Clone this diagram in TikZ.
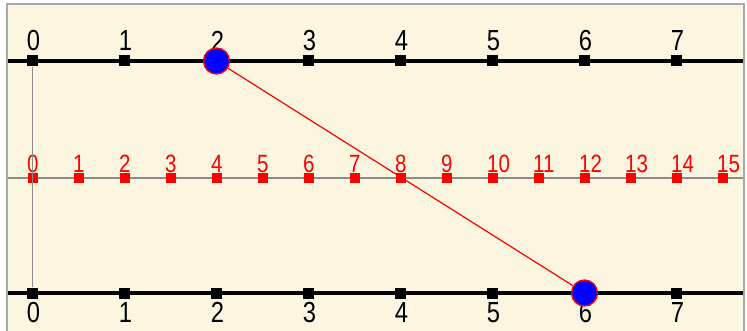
\documentclass[tikz,border=0pt]{standalone}
\usepackage{fontspec}
\newfontfamily\lblfont[FakeStretch=0.82]{Liberation Sans}
\definecolor{bg}{HTML}{FCF6E1}
\definecolor{framegray}{HTML}{A8A8A8}
\definecolor{axisgray}{HTML}{8C8C84}
\tikzset{
  btick/.style={rectangle, fill=black, minimum size=11pt, inner sep=0pt},
  rtick/.style={rectangle, fill=red, minimum size=10pt, inner sep=0pt},
  blbl/.style={inner sep=0pt, font=\lblfont\fontsize{29}{29}\selectfont, text=black},
  rlbl/.style={inner sep=0pt, anchor=west, font=\lblfont\fontsize{25}{25}\selectfont, text=red},
  pin/.style={circle, fill=blue, draw=red, line width=1.3pt, minimum size=26pt, inner sep=0pt},
  thick line/.style={line width=3.5pt, black},
}
\begin{document}
\begin{tikzpicture}[x=1pt,y=-1pt]
\useasboundingbox (0,0) rectangle (747,331);
\fill[white] (0,0) rectangle (747,331);
\fill[bg] (7,4) rectangle (744,331);
\begin{scope}
\clip (8,5) rectangle (743,331);
% middle axis
\coordinate (ml) at (8,178);
\coordinate (mr) at (743,178);
\draw[axisgray, line width=1.8pt] (ml) -- (mr);
% top and bottom axes
\coordinate (tl) at (8,61);
\coordinate (tr) at (743,61);
\coordinate (bl) at (8,293);
\coordinate (br) at (743,293);
\draw[thick line] (tl) -- (tr);
\draw[thick line] (bl) -- (br);
% ticks
\foreach \k in {0,...,7} {
  \node[btick] (t\k) at (32.5+92*\k,61) {};
  \node[btick] (b\k) at (32.5+92*\k,293) {};
  \node[blbl] (tlab\k) at (33.5+92*\k,41) {\k};
  \node[blbl] (blab\k) at (33.5+92*\k,312.5) {\k};
}
\foreach \k in {0,...,15} {
  \node[rtick] (m\k) at (32.5+46*\k,178) {};
  \node[rlbl] (mlab\k) at (27+46*\k,164) {\k};
}
% vertical gray connector
\draw[axisgray, line width=1.2pt] (t0) -- (b0);
% pins and red connector
\node[pin] (p1) at (216.5,61) {};
\node[pin] (p2) at (584.5,293) {};
\draw[red, line width=1.2pt] (p1) -- (p2);
\end{scope}
\draw[framegray, line width=1.5pt] (7,331) -- (7,4) -- (744,4) -- (744,331);
\end{tikzpicture}
\end{document}
